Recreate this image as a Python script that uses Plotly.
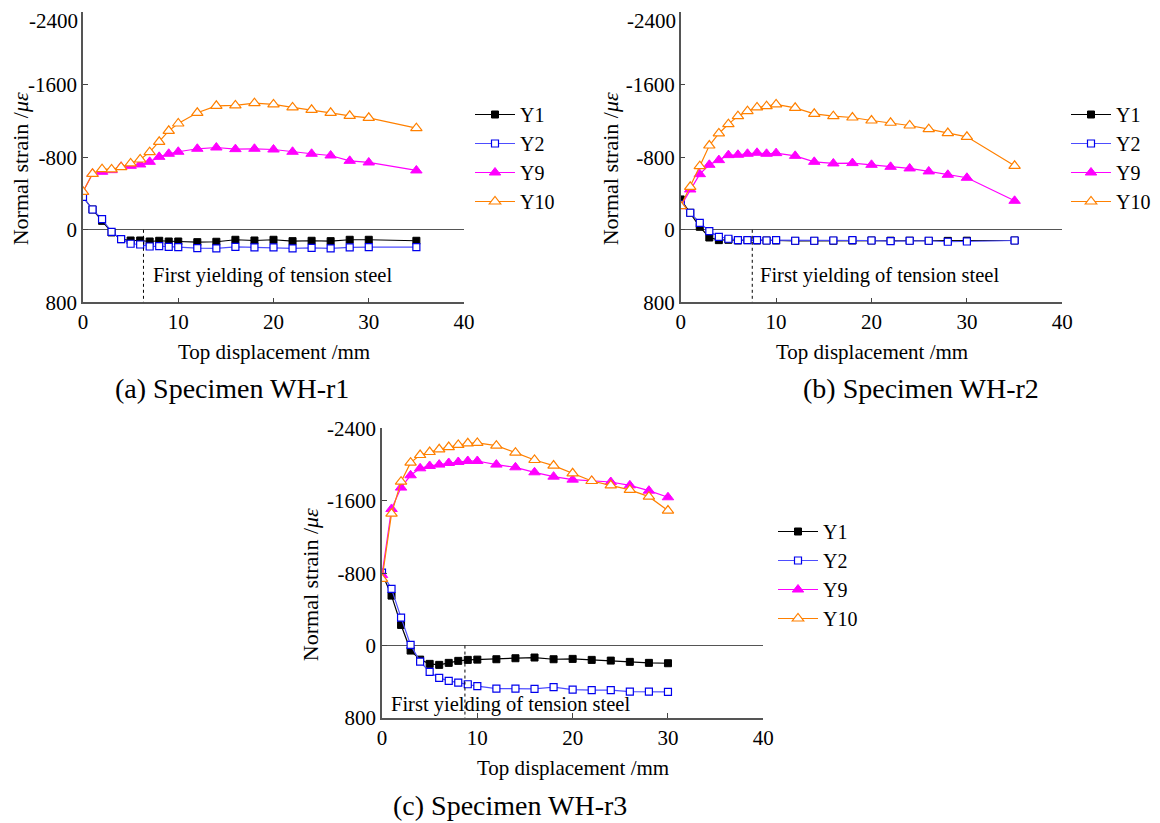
import plotly.graph_objects as go

# page is rendered with an 8px body margin; work in page pixels and convert
OFF = 8
W, H = 1160 - OFF, 823 - OFF


def fx(p):
    return (p - OFF) / W


def fy(p):
    return 1 - (p - OFF) / H


# ---------------- data ----------------
x_ab = [0, 1, 2, 3, 4, 5, 6, 7, 8, 9, 10, 12, 14, 16, 18, 20, 22, 24, 26, 28, 30, 35]
x_c = [0, 1, 2, 3, 4, 5, 6, 7, 8, 9, 10, 12, 14, 16, 18, 20, 22, 24, 26, 28, 30]

Y1_a = [-364, -224, -99, 29, 103, 118, 118, 129, 121, 129, 129, 136, 132, 110, 118, 110, 125, 121, 125, 110, 110, 121]
Y2_a = [-364, -224, -118, 22, 103, 154, 162, 184, 180, 188, 191, 202, 206, 188, 195, 195, 206, 199, 206, 195, 191, 191]
Y9_a = [-419, -618, -640, -658, -695, -706, -721, -750, -805, -839, -861, -894, -908, -890, -894, -886, -861, -839, -820, -761, -743, -655]
Y10_a = [-419, -618, -669, -666, -691, -732, -776, -857, -971, -1092, -1173, -1291, -1368, -1372, -1398, -1383, -1350, -1324, -1291, -1258, -1236, -1122]

Y1_b = [-335, -188, -33, 85, 114, 110, 118, 114, 118, 118, 118, 122, 122, 120, 118, 118, 120, 120, 122, 122, 120, 118]
Y2_b = [-280, -188, -77, 15, 77, 99, 114, 114, 114, 118, 114, 121, 121, 118, 114, 118, 125, 121, 121, 132, 129, 118]
Y9_b = [-261, -445, -614, -717, -769, -824, -828, -839, -850, -839, -846, -816, -750, -732, -736, -717, -695, -677, -644, -607, -574, -320]
Y10_b = [-261, -474, -702, -930, -1063, -1166, -1254, -1309, -1350, -1364, -1383, -1346, -1280, -1254, -1239, -1206, -1181, -1151, -1111, -1067, -1026, -706]

Y1_c = [-799, -552, -228, 55, 155, 202, 213, 191, 169, 158, 155, 151, 140, 132, 151, 147, 158, 166, 180, 191, 195]
Y2_c = [-806, -626, -309, -7, 177, 291, 357, 390, 409, 427, 449, 475, 475, 478, 460, 486, 493, 493, 508, 508, 512]
Y9_c = [-780, -1509, -1745, -1881, -1958, -1984, -1999, -2017, -2028, -2039, -2039, -1999, -1969, -1914, -1866, -1833, -1818, -1807, -1770, -1711, -1638]
Y10_c = [-736, -1457, -1811, -2021, -2105, -2138, -2168, -2193, -2216, -2234, -2238, -2208, -2131, -2050, -1988, -1903, -1818, -1770, -1719, -1645, -1491]

yield_disp = [6.35, 7.5, 8.7]
series_names = ["Y1", "Y2", "Y9", "Y10"]
captions = ["(a) Specimen WH-r1", "(b) Specimen WH-r2", "(c) Specimen WH-r3"]
x_ticks = [0, 10, 20, 30, 40]
y_ticks = [-2400, -1600, -800, 0, 800]
y_ticktext = ["-2400", "-1600", "-800", "0", "800"]

FONT = "Liberation Serif"

styles = {
    "Y1": dict(line=dict(color="black", width=1.2),
               marker=dict(symbol="square", size=7, color="black", line=dict(color="black", width=1))),
    "Y2": dict(line=dict(color="#4d4dff", width=1.2),
               marker=dict(symbol="square", size=7, color="white", line=dict(color="#0000ee", width=1.2))),
    "Y9": dict(line=dict(color="#ff00ff", width=1.2),
               marker=dict(symbol="triangle-up", size=10, color="#ff00ff", line=dict(color="#ff00ff", width=1))),
    "Y10": dict(line=dict(color="#ff8000", width=1.2),
                marker=dict(symbol="triangle-up", size=10, color="white", line=dict(color="#ff8000", width=1.2))),
}

panels = [
    dict(x=x_ab, ys=[Y1_a, Y2_a, Y9_a, Y10_a], px=(83, 464), py=(12.3, 302.3)),
    dict(x=x_ab, ys=[Y1_b, Y2_b, Y9_b, Y10_b], px=(680.7, 1062.3), py=(12.3, 302.3)),
    dict(x=x_c, ys=[Y1_c, Y2_c, Y9_c, Y10_c], px=(382, 763.3), py=(428.3, 718)),
]
legend_pos = [(470, 95), (1066, 95), (773, 512)]
ytitle_x = [20, 610, 310]
caption_pos = [(232, 388), (921, 388), (510, 805)]
text_pos = [(7.1, 500), (8.1, 500), (0.73, 655)]

fig = go.Figure()
layout = dict(width=W, height=H, margin=dict(l=0, r=0, t=0, b=0, autoexpand=False),
              paper_bgcolor="white", plot_bgcolor="white",
              font=dict(family=FONT, size=20, color="black"))
annotations = []
shapes = []

for i, p in enumerate(panels):
    sfx = "" if i == 0 else str(i + 1)
    xa, ya = "x" + sfx, "y" + sfx
    lg = "legend" if i == 0 else "legend" + str(i + 1)
    for name, yv in zip(series_names, p["ys"]):
        fig.add_trace(go.Scatter(x=p["x"], y=yv, name=name, mode="lines+markers",
                                 xaxis=xa, yaxis=ya, legend=lg, **styles[name]))
    x0, x1 = p["px"]
    y0, y1 = p["py"]
    top_clipped = (y0 - 11) < OFF
    tt = list(y_ticktext)
    if top_clipped:
        # top label would be cut by the figure edge: draw it as an annotation instead
        tt[0] = ""
        annotations.append(dict(xref="paper", yref="paper", x=fx(x0 - 4), y=1.0,
                                xanchor="right", yanchor="top", text=y_ticktext[0],
                                showarrow=False, borderpad=0, font=dict(size=21, family=FONT)))
    layout["xaxis" + sfx] = dict(domain=[fx(x0), fx(x1)], anchor=ya, range=[0, 40],
                                 tickvals=x_ticks, ticks="inside", ticklen=5, tickcolor="#444",
                                 showline=True, linecolor="#555", linewidth=1.5,
                                 showgrid=False, zeroline=False, automargin=False,
                                 ticklabeloverflow="allow",
                                 tickfont=dict(size=21, family=FONT))
    layout["yaxis" + sfx] = dict(domain=[fy(y1), fy(y0)], anchor=xa, range=[800, -2400],
                                 tickvals=y_ticks, ticktext=tt,
                                 ticks="inside", ticklen=5, tickcolor="#444",
                                 showline=True, linecolor="#555", linewidth=1.5,
                                 showgrid=False, zeroline=True, zerolinecolor="#555", zerolinewidth=1.3,
                                 automargin=False, ticklabeloverflow="allow",
                                 tickfont=dict(size=21, family=FONT))
    lx, ly = legend_pos[i]
    layout[lg] = dict(x=fx(lx), y=fy(ly), xanchor="left", yanchor="top",
                      bgcolor="rgba(0,0,0,0)", font=dict(size=20, family=FONT),
                      tracegroupgap=0, itemwidth=40)
    shapes.append(dict(type="line", xref=xa, yref=ya, x0=yield_disp[i], x1=yield_disp[i],
                       y0=0, y1=800, line=dict(color="black", width=1, dash="dot")))
    tx, ty = text_pos[i]
    annotations.append(dict(xref=xa, yref=ya, x=tx, y=ty, xanchor="left", yanchor="middle",
                            text="First yielding of tension steel", showarrow=False,
                            font=dict(size=20.5, family=FONT)))
    # axis titles
    annotations.append(dict(xref="paper", yref="paper", x=fx((x0 + x1) / 2), y=fy(y1 + 50),
                            xanchor="center", yanchor="middle", text="Top displacement /mm",
                            showarrow=False, font=dict(size=21, family=FONT)))
    annotations.append(dict(xref="paper", yref="paper", x=fx(ytitle_x[i]), y=fy((y0 + y1) / 2 + 12),
                            xanchor="center", yanchor="middle", text="Normal strain /<i>με</i>",
                            textangle=-90, showarrow=False, font=dict(size=22, family=FONT)))
    cx, cy = caption_pos[i]
    annotations.append(dict(xref="paper", yref="paper", x=fx(cx), y=fy(cy),
                            xanchor="center", yanchor="middle", text=captions[i],
                            showarrow=False, font=dict(size=28, family=FONT)))

layout["annotations"] = annotations
layout["shapes"] = shapes
fig.update_layout(**layout)
fig.write_html("out.html")
